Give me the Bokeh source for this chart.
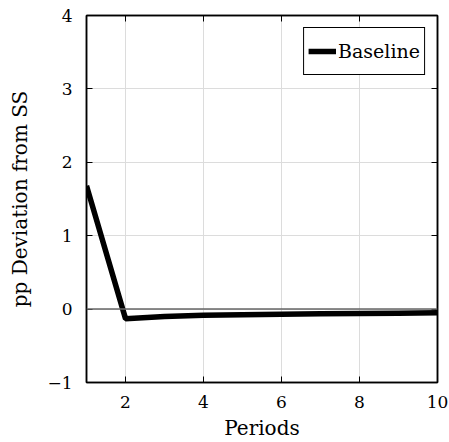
from bokeh.plotting import figure
from bokeh.models import LinearAxis, FixedTicker, Span, Range1d
from bokeh.embed import file_html
from bokeh.resources import INLINE

periods = [1, 2, 3, 4, 5, 6, 7, 8, 9, 10]
baseline = [1.68, -0.13, -0.10, -0.085, -0.077, -0.07, -0.065, -0.06, -0.055, -0.05]
x_ticks = [2, 4, 6, 8, 10]
y_ticks = [-1, 0, 1, 2, 3, 4]

FONT = "DejaVu Serif"

p = figure(frame_width=351, frame_height=367, output_backend="svg", toolbar_location=None,
           x_range=Range1d(1, 10), y_range=Range1d(-1, 4),
           min_border_left=86, min_border_right=12, min_border_top=15, min_border_bottom=60)

p.outline_line_color = "black"
p.outline_line_width = 1.5
p.background_fill_color = "white"
p.border_fill_color = "white"

for ax in p.xaxis + p.yaxis:
    ax.major_label_text_font = FONT
    ax.major_label_text_font_size = "17px"
    ax.major_label_text_color = "black"
    ax.axis_label_text_font = FONT
    ax.axis_label_text_font_size = "20px"
    ax.axis_label_text_font_style = "normal"
    ax.axis_label_text_color = "black"
    ax.major_tick_in = 6
    ax.major_tick_out = 0
    ax.minor_tick_line_color = None
    ax.axis_line_color = "black"
    ax.axis_line_width = 1.5
    ax.major_tick_line_color = "black"

p.xaxis.ticker = FixedTicker(ticks=x_ticks)
p.yaxis.ticker = FixedTicker(ticks=y_ticks)
p.xaxis.axis_label = "Periods"
p.yaxis.axis_label = "pp Deviation from SS"
p.yaxis.major_label_overrides = {-1: "\u22121"}
p.xaxis.major_label_standoff = 13
p.yaxis.major_label_standoff = 14
p.xaxis.axis_label_standoff = 5
p.yaxis.axis_label_standoff = 12

for loc, ticks in (("right", y_ticks), ("above", x_ticks)):
    ax = LinearAxis(ticker=FixedTicker(ticks=ticks),
                    major_label_overrides={t: "" for t in ticks},
                    major_label_text_font_size="1px",
                    major_tick_in=6, major_tick_out=0, minor_tick_line_color=None,
                    axis_line_color="black", axis_line_width=1.5, major_label_standoff=0)
    p.add_layout(ax, loc)

p.xgrid.ticker = FixedTicker(ticks=x_ticks)
p.ygrid.ticker = FixedTicker(ticks=y_ticks)
p.grid.grid_line_color = "#dcdcdc"
p.grid.grid_line_width = 1

p.add_layout(Span(location=0, dimension="width", line_color="#666666", line_width=1.5))

p.line(periods, baseline, line_color="black", line_width=5.5, legend_label="Baseline")

p.legend.location = "top_right"
p.legend.label_text_font = FONT
p.legend.label_text_font_size = "19px"
p.legend.label_text_color = "black"
p.legend.border_line_color = "black"
p.legend.border_line_width = 1
p.legend.border_line_alpha = 1
p.legend.background_fill_alpha = 1
p.legend.glyph_width = 28
p.legend.glyph_height = 38
p.legend.label_height = 38
p.legend.label_standoff = 2
p.legend.padding = 4
p.legend.margin = 12
p.legend.spacing = 0

open("out.html", "w").write(file_html(p, INLINE))
